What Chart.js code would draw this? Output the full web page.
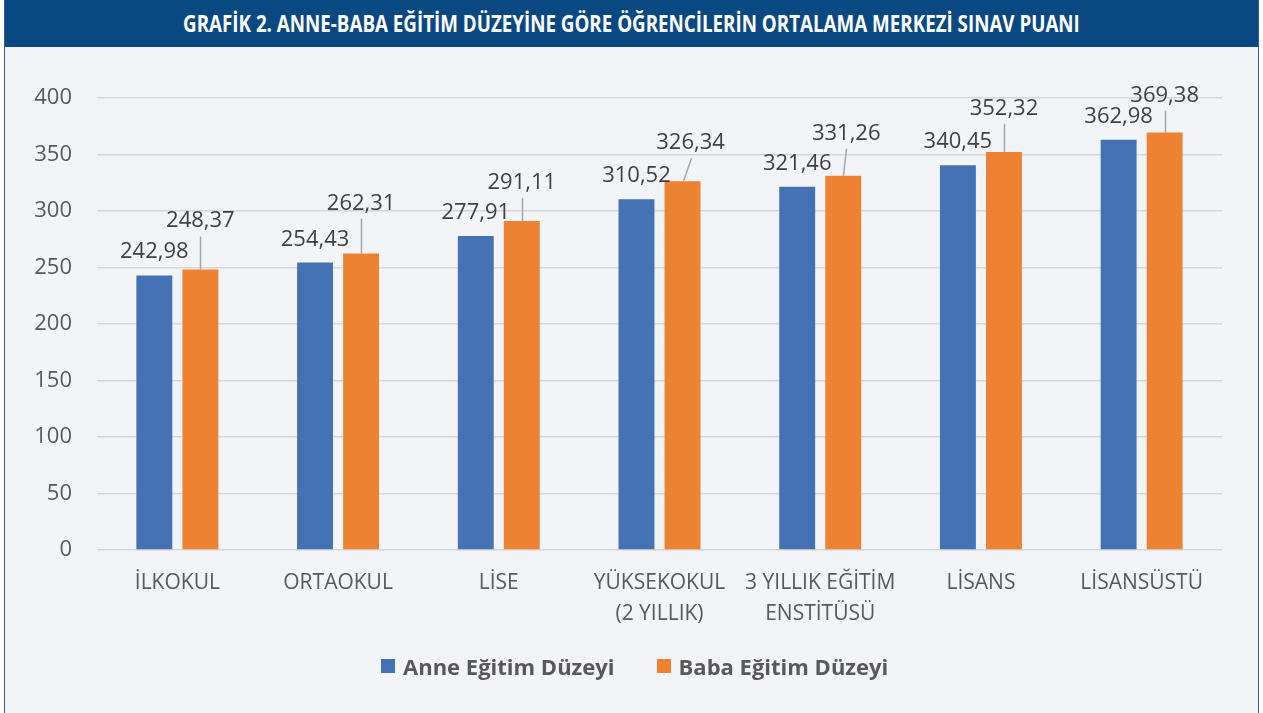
<!DOCTYPE html>
<html lang="tr">
<head>
<meta charset="utf-8">
<title>Grafik 2</title>
<script src="https://cdn.jsdelivr.net/npm/chart.js@4.4.1/dist/chart.umd.min.js"></script>
<style>
    html, body { margin: 0; padding: 0; background: #ffffff; }
    #frame {
        position: relative;
        width: 1255px; height: 713px;
        margin-left: 4px;
        background: #f3f4f8;
        border-left: 1px solid #2f5e9e;
        border-right: 1px solid #2f5e9e;
        box-sizing: border-box;
    }
    #header {
        height: 47px;
        background: #0a4882;
        color: #ffffff;
        font-family: "Open Sans", sans-serif;
        font-weight: bold;
        font-size: 23px;
        line-height: 47px;
        text-align: center;
        overflow: hidden;
        white-space: nowrap;
    }
    #header span { display: inline-block; transform-origin: center; }
    #chart-wrap {
        position: absolute;
        left: -5px; top: 48px;
        width: 1263px; height: 665px;
    }
    #legend {
        position: absolute;
        left: 376px; top: 651px;
        display: flex;
        align-items: center;
        font-family: "Open Sans", sans-serif;
        font-weight: bold;
        font-size: 22px;
        color: #595959;
    }
    .item { display: flex; align-items: center; margin-right: 42px; }
    .box { width: 14px; height: 14px; margin-right: 8px; }
</style>
</head>
<body>
<div id="frame">
    <div id="header"><span id="baslik">GRAFİK 2. ANNE-BABA EĞİTİM DÜZEYİNE GÖRE ÖĞRENCİLERİN ORTALAMA MERKEZİ SINAV PUANI</span></div>
    <div id="chart-wrap"><canvas id="grafik"></canvas></div>
    <div id="legend"></div>
</div>
<script>
// veriler
const kategoriler = [
    'İLKOKUL',
    'ORTAOKUL',
    'LİSE',
    ['YÜKSEKOKUL', '(2 YILLIK)'],
    ['3 YILLIK EĞİTİM', 'ENSTİTÜSÜ'],
    'LİSANS',
    'LİSANSÜSTÜ'
];
const anneDegerleri = [242.98, 254.43, 277.91, 310.52, 321.46, 340.45, 362.98];
const babaDegerleri = [248.37, 262.31, 291.11, 326.34, 331.26, 352.32, 369.38];
const yTikleri = [0, 50, 100, 150, 200, 250, 300, 350, 400];
const seriAdlari = ['Anne Eğitim Düzeyi', 'Baba Eğitim Düzeyi'];
const seriRenkleri = ['#4472b4', '#ed8233'];

// baba etiketleri elle kaydırılmış (px, çubuk tepesine göre)
const babaEtiketDy = [42, 44, 32, 32, 36, 37, 31];
const babaEtiketDx = [0, 0, 0, 8, 3, 0, 0];

const GRI = '#595959';
const YAZI = '"Open Sans", "Noto Sans", sans-serif';

const fmt = v => v.toFixed(2).replace('.', ',');

// başlık dar yazı: genişliğe sıkıştır
const baslik = document.getElementById('baslik');
baslik.style.transform = 'scaleX(' + (897 / baslik.offsetWidth).toFixed(3) + ')';

// lejant
const legend = document.getElementById('legend');
seriAdlari.forEach((ad, i) => {
    const item = document.createElement('div');
    item.className = 'item';
    item.innerHTML = `<span class="box" style="background:${seriRenkleri[i]}"></span><span>${ad}</span>`;
    legend.appendChild(item);
});

// veri etiketleri (baba serisinde kılavuz çizgi var)
const etiketEklentisi = {
    id: 'etiketler',
    afterDatasetsDraw(chart) {
        const ctx = chart.ctx;
        ctx.save();
        ctx.font = '22px ' + YAZI;
        ctx.fillStyle = '#404040';
        ctx.textAlign = 'center';
        ctx.textBaseline = 'alphabetic';
        chart.data.datasets.forEach((ds, di) => {
            const meta = chart.getDatasetMeta(di);
            meta.data.forEach((bar, i) => {
                const text = fmt(ds.data[i]);
                if (di === 0) {
                    ctx.fillText(text, bar.x, bar.y - 17);
                } else {
                    const lx = bar.x + babaEtiketDx[i];
                    const ly = bar.y - babaEtiketDy[i];
                    ctx.fillText(text, lx, ly);
                    ctx.strokeStyle = '#a6a6a6';
                    ctx.lineWidth = 1.5;
                    ctx.beginPath();
                    ctx.moveTo(Math.round(lx) + 0.5, ly + 9);
                    ctx.lineTo(Math.round(bar.x) + 0.5, bar.y);
                    ctx.stroke();
                }
            });
        });
        ctx.restore();
    }
};

const ctx = document.getElementById('grafik').getContext('2d');
new Chart(ctx, {
    type: 'bar',
    data: {
        labels: kategoriler,
        datasets: seriAdlari.map((ad, i) => ({
            label: ad,
            data: i === 0 ? anneDegerleri : babaDegerleri,
            backgroundColor: seriRenkleri[i],
            categoryPercentage: 0.573,
            barPercentage: 0.78
        }))
    },
    options: {
        responsive: true,
        maintainAspectRatio: false,
        animation: false,
        layout: {
            padding: { top: 50, right: 41, bottom: 74, left: 0 }
        },
        scales: {
            x: {
                grid: { display: false },
                border: { display: false },
                ticks: {
                    color: GRI,
                    font: { family: YAZI, size: 21, lineHeight: 1.45 },
                    padding: 10,
                    maxRotation: 0,
                    autoSkip: false
                }
            },
            y: {
                min: 0,
                max: 400,
                afterBuildTicks(scale) {
                    scale.ticks = yTikleri.map(v => ({ value: v }));
                },
                afterFit(scale) {
                    scale.width = 97;
                },
                grid: { color: '#d5d6da', lineWidth: 1.5, drawTicks: false },
                border: { display: false },
                ticks: {
                    color: GRI,
                    font: { family: YAZI, size: 22 },
                    padding: 25
                }
            }
        },
        plugins: {
            legend: { display: false },
            tooltip: { enabled: false }
        }
    },
    plugins: [etiketEklentisi]
});
</script>
</body>
</html>
